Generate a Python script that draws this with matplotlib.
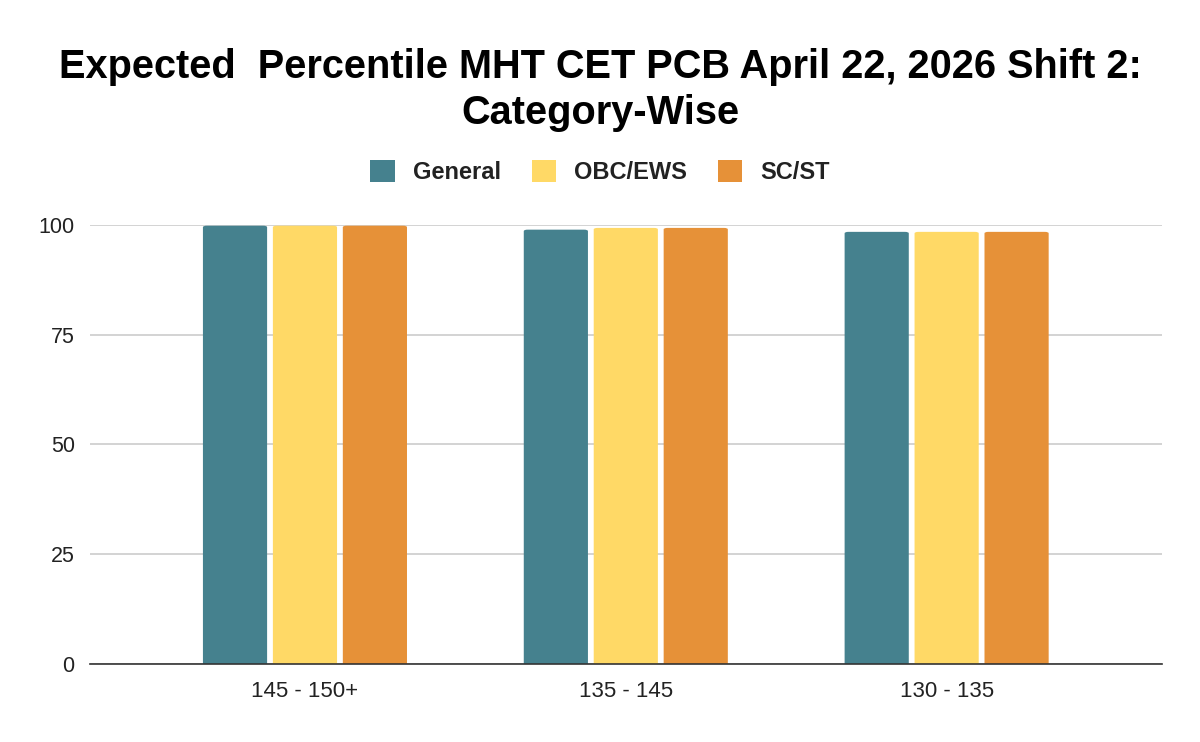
import matplotlib.pyplot as plt
from matplotlib.patches import Patch, FancyBboxPatch
import numpy as np

plt.rcParams['font.family'] = ['Liberation Sans', 'DejaVu Sans']

ranges = ["145 - 150+", "135 - 145", "130 - 135"]
general = [99.8, 98.9, 98.4]
obc_ews = [99.8, 99.3, 98.4]
sc_st = [99.8, 99.3, 98.4]

series = [("General", general, "#45818e"),
          ("OBC/EWS", obc_ews, "#ffd966"),
          ("SC/ST", sc_st, "#e69138")]

fig = plt.figure(figsize=(12, 7.42), dpi=100)
ax = fig.add_axes([0.075, 0.105, 0.893, 0.592])

x = np.arange(len(ranges))
w = 0.2
for i, (name, vals, col) in enumerate(series):
    bars = ax.bar(x + (i - 1) * 0.218, vals, width=w, color=col, zorder=3)
    # round the top corners a little, like the sheets chart
    for b in bars:
        bx, by = b.get_x(), b.get_y()
        bw, bh = b.get_width(), b.get_height()
        b.set_visible(False)
        ax.add_patch(FancyBboxPatch((bx, by - 3), bw, bh + 3,
                                    boxstyle="round,pad=0,rounding_size=0.012",
                                    mutation_aspect=27.2,
                                    facecolor=col, edgecolor='none', zorder=3, clip_on=True))

ax.set_xlim(-0.67, 2.67)
ax.set_ylim(0, 100)
ax.set_yticks([0, 25, 50, 75, 100])
ax.set_xticks(x)
ax.set_xticklabels(ranges)
ax.tick_params(axis='both', length=0, colors='#222222')
ax.tick_params(axis='x', pad=12, labelsize=16)
ax.tick_params(axis='y', pad=11, labelsize=15.5)
ax.yaxis.grid(True, color='#cccccc', linewidth=1.2, zorder=0)
ax.set_axisbelow(True)
for s in ['top', 'right', 'left']:
    ax.spines[s].set_visible(False)
ax.spines['bottom'].set_color('#333333')
ax.spines['bottom'].set_linewidth(1.2)
ax.spines['bottom'].set_zorder(4)

fig.text(0.5, 0.879, "Expected  Percentile MHT CET PCB April 22, 2026 Shift 2:\nCategory-Wise",
         ha='center', va='center', fontsize=28.6, fontweight='bold', linespacing=1.27)

handles = [Patch(facecolor=c, label=n) for n, _, c in series]
leg = fig.legend(handles=handles, loc='center', bbox_to_anchor=(0.5, 0.768), ncol=3,
                 frameon=False, prop={'size': 17, 'weight': 'bold'},
                 handlelength=1.05, handleheight=1.05, columnspacing=1.3, handletextpad=0.75)
for t in leg.get_texts():
    t.set_color('#222222')

fig.savefig("out.png", dpi=100)
